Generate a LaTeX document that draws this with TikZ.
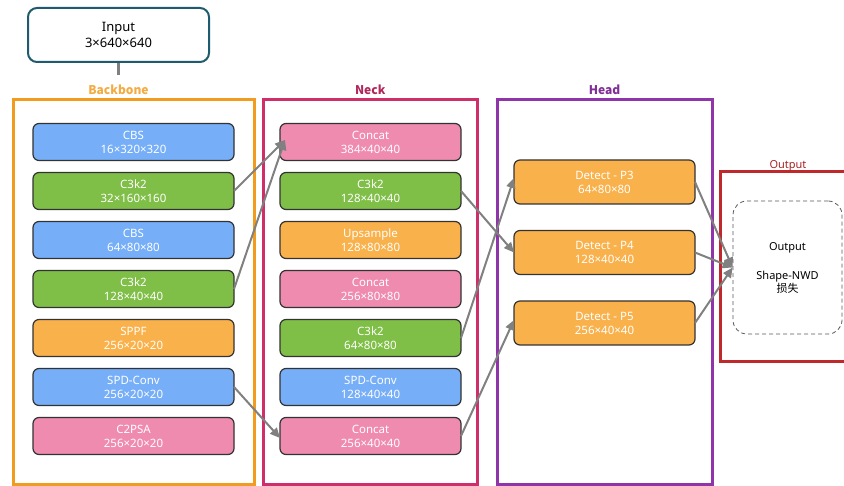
\documentclass[tikz,border=0pt]{standalone}
\usepackage{fontspec}
\setmainfont{Noto Sans}
\newfontfamily\cjk{Noto Sans CJK SC}
\usepackage{xcolor}
\usepackage{tikz}
\usetikzlibrary{positioning,arrows.meta}

\definecolor{cbsblue}{HTML}{76AEF8}
\definecolor{cgreen}{HTML}{7FBE47}
\definecolor{corange}{HTML}{F9B14B}
\definecolor{cpink}{HTML}{EF8BAF}
\definecolor{bbcol}{HTML}{F29C1F}
\definecolor{nkcol}{HTML}{D02E6B}
\definecolor{hdcol}{HTML}{8F35A9}
\definecolor{outcol}{HTML}{C0292B}
\definecolor{incol}{HTML}{1F5B6E}
\definecolor{arrgray}{HTML}{808080}

\begin{document}
\begin{tikzpicture}[x=1pt, y=-1pt, node distance=12pt,
  every node/.style={font=\fontsize{11.5}{14}\selectfont},
  blk/.style={draw=black!80, line width=1.2pt, rounded corners=6pt, align=center, text=white, minimum width=201pt, minimum height=37pt, inner sep=0pt, outer sep=0pt},
  nblk/.style={blk, minimum width=181pt},
  hblk/.style={blk, minimum width=181pt, minimum height=44pt},
  stageframe/.style={draw=#1, line width=3pt, inner sep=0pt, minimum height=384pt},
  stagelabel/.style={font=\fontsize{12}{14}\selectfont\cjk\bfseries, text=#1},
  arr/.style={draw=arrgray, line width=2pt, -{Triangle[length=10pt,width=9pt]}}]
  \useasboundingbox (0,0) rectangle (844,486);

  \node[stageframe=bbcol, minimum width=241pt] (bbf) at (133.5,292) {};
  \node[stageframe=nkcol, minimum width=214.5pt] (nkf) at (370.25,292) {};
  \node[stageframe=hdcol, minimum width=215pt] (hdf) at (604.5,292) {};
  \node[draw=outcol, line width=3pt, inner sep=0pt, minimum width=128pt, minimum height=190pt] (outf) at (784,267) {};

  \node[draw=incol, line width=2pt, rounded corners=9pt, minimum width=181pt, minimum height=54pt, align=center, font=\fontsize{13}{16}\selectfont] (input) at (118.5,35) {Input\\3×640×640};
  \node[stagelabel={bbcol!85}] (bblabel) at (118.5,89.5) {Backbone};
  \node[stagelabel={nkcol!85!black}] (nklabel) at (370.25,89.5) {Neck};
  \node[stagelabel={hdcol!90!black}] (hdlabel) at (604.5,89.5) {Head};
  \node[font=\fontsize{11}{13}\selectfont, text=outcol!85!black] (outlabel) at (788,165.5) {Output};
  \draw[draw=arrgray, line width=2.5pt, shorten >=6pt] (input) -- (bblabel);

  \node[blk, fill=cbsblue] (b1) at (133.5,142) {CBS\\16×320×320};
  \node[blk, fill=cgreen, below=of b1] (b2) {C3k2\\32×160×160};
  \node[blk, fill=cbsblue, below=of b2] (b3) {CBS\\64×80×80};
  \node[blk, fill=cgreen, below=of b3] (b4) {C3k2\\128×40×40};
  \node[blk, fill=corange, below=of b4] (b5) {SPPF\\256×20×20};
  \node[blk, fill=cbsblue, below=of b5] (b6) {SPD-Conv\\256×20×20};
  \node[blk, fill=cpink, below=of b6] (b7) {C2PSA\\256×20×20};

  \node[nblk, fill=cpink, right=46pt of b1] (n1) {Concat\\384×40×40};
  \node[nblk, fill=cgreen, below=of n1] (n2) {C3k2\\128×40×40};
  \node[nblk, fill=corange, below=of n2] (n3) {Upsample\\128×80×80};
  \node[nblk, fill=cpink, below=of n3] (n4) {Concat\\256×80×80};
  \node[nblk, fill=cgreen, below=of n4] (n5) {C3k2\\64×80×80};
  \node[nblk, fill=cbsblue, below=of n5] (n6) {SPD-Conv\\128×40×40};
  \node[nblk, fill=cpink, below=of n6] (n7) {Concat\\256×40×40};

  \node[hblk, fill=corange] (h1) at (604.5,182) {Detect - P3\\64×80×80};
  \node[hblk, fill=corange, below=26.5pt of h1] (h2) {Detect - P4\\128×40×40};
  \node[hblk, fill=corange, below=26.5pt of h2] (h3) {Detect - P5\\256×40×40};

  \node[draw=black!65, dashed, dash pattern=on 4pt off 3pt, line width=0.8pt, rounded corners=14pt, minimum width=109pt, minimum height=133pt, align=center, font=\fontsize{11}{13}\selectfont] (outb) at (787.5,267.5) {Output\\[16pt]Shape-NWD\\{\cjk 损失}};

  \draw[arr] (b2.east) -- ([xshift=5pt,yshift=2pt]n1.west);
  \draw[arr] (b4.east) -- ([xshift=5pt,yshift=2pt]n1.west);
  \draw[arr] (b6.east) -- ([yshift=-2pt]n7.west);
  \draw[arr] (n2.east) -- (h2.west);
  \draw[arr] (n5.east) -- ([yshift=4pt]h1.west);
  \draw[arr] (n7.east) -- ([yshift=3pt]h3.west);
  \draw[arr] (h1.east) -- (outb.west);
  \draw[arr] (h2.east) -- (outb.west);
  \draw[arr] (h3.east) -- (outb.west);
\end{tikzpicture}
\end{document}
